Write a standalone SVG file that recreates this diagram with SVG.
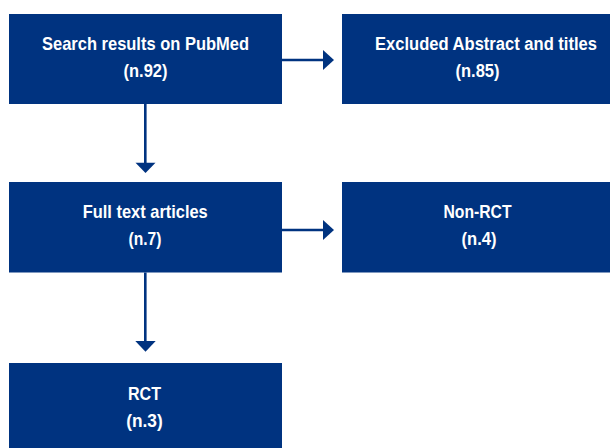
<svg xmlns="http://www.w3.org/2000/svg" width="610" height="448" viewBox="0 0 610 448">
<style>
.box{fill:#003380;}
.t{font-family:"Liberation Sans",Arial,sans-serif;font-weight:bold;font-size:18.5px;fill:#ffffff;text-anchor:middle;}
.ln{stroke:#003380;stroke-width:2.6;fill:none;}
.hd{fill:#003380;}
</style>
<rect width="610" height="448" fill="#ffffff"/>
<g id="node-search">
<rect class="box" x="9" y="14" width="273" height="90"/>
<text class="t" x="145.5" y="49.5" textLength="207" lengthAdjust="spacingAndGlyphs">Search results on PubMed</text>
<text class="t" x="145.5" y="76.5" textLength="44" lengthAdjust="spacingAndGlyphs">(n.92)</text>
</g>
<g id="node-excluded">
<rect class="box" x="342" y="14" width="268" height="90"/>
<text class="t" x="486" y="49.5" style="font-size:17.5px" textLength="222" lengthAdjust="spacingAndGlyphs">Excluded Abstract and titles</text>
<text class="t" x="477.5" y="76.5" textLength="44" lengthAdjust="spacingAndGlyphs">(n.85)</text>
</g>
<g id="node-fulltext">
<rect class="box" x="9" y="182" width="273" height="90.5"/>
<text class="t" x="145.25" y="217.5" textLength="125" lengthAdjust="spacingAndGlyphs">Full text articles</text>
<text class="t" x="145" y="244.5" textLength="33" lengthAdjust="spacingAndGlyphs">(n.7)</text>
</g>
<g id="node-nonrct">
<rect class="box" x="342" y="182" width="268" height="90.5"/>
<text class="t" x="477.5" y="217.5" textLength="68" lengthAdjust="spacingAndGlyphs">Non-RCT</text>
<text class="t" x="479" y="244.5" textLength="35" lengthAdjust="spacingAndGlyphs">(n.4)</text>
</g>
<g id="node-rct">
<rect class="box" x="9" y="363" width="273" height="85"/>
<text class="t" x="144.5" y="399.5" textLength="33" lengthAdjust="spacingAndGlyphs">RCT</text>
<text class="t" x="144.5" y="427" textLength="36.5" lengthAdjust="spacingAndGlyphs">(n.3)</text>
</g>
<g id="connectors">
<line class="ln" x1="282" y1="60" x2="324" y2="60"/>
<polygon class="hd" points="323,50 334,60 323,70"/>
<line class="ln" x1="282" y1="230" x2="324" y2="230"/>
<polygon class="hd" points="323,220 334,230 323,240"/>
<line class="ln" x1="145.3" y1="104" x2="145.3" y2="164"/>
<polygon class="hd" points="135.5,162.7 155.5,162.7 145.5,173"/>
<line class="ln" x1="145.3" y1="272.5" x2="145.3" y2="342"/>
<polygon class="hd" points="135.3,341 155.7,341 145.5,351.7"/>
</g>
</svg>
